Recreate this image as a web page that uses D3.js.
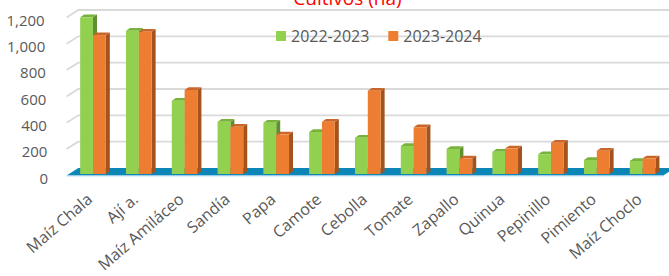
<!DOCTYPE html>
<html>
<head>
<meta charset="utf-8">
<script src="https://cdnjs.cloudflare.com/ajax/libs/d3/7.8.5/d3.min.js"></script>
<style>
    body { margin: 0; background: #fff; }
    text { font-family: "Open Sans", sans-serif; }
</style>
</head>
<body>
<div id="chart"></div>
<script>
// data
const categories = ["Maíz Chala", "Ají a.", "Maíz Amiláceo", "Sandía", "Papa", "Camote", "Cebolla",
    "Tomate", "Zapallo", "Quinua", "Pepinillo", "Pimiento", "Maíz Choclo"];
const seriesNames = ["2022-2023", "2023-2024"];
const values2022 = [1190, 1088, 557, 397, 390, 319, 276, 213, 190, 169, 150, 106, 99];
const values2023 = [1055, 1080, 638, 359, 301, 397, 633, 355, 119, 195, 238, 177, 119];
const yTicks = [0, 200, 400, 600, 800, 1000, 1200];
const tickLabels = ["0", "200", "400", "600", "800", "1,000", "1,200"];

var width = 669, height = 276;
var barBase = 174, wallBase = 168, labelBase = 178.3;
var depth = {x: -11.7, y: 7.4};      // back wall -> front edge of the floor
var barDepth = {x: 4, y: -2.7};      // 3d thickness of one column
var wallLeft = 78.3, wallRight = 669;

var colors = [
    {front: "#92d050", top: "#78b23c", side: "#5f8f2e"},
    {front: "#ed7d31", top: "#c9672a", side: "#a5531d"}
];

var svg = d3.select("#chart")
    .append("svg")
    .attr("width", width)
    .attr("height", height);

var y = d3.scaleLinear()
    .domain([0, 1200])
    .range([0, 158]);

var x = d3.scaleBand()
    .domain(categories)
    .range([70.1, 665.5])
    .paddingInner(0.44)
    .paddingOuter(0.22);

var xSub = d3.scaleBand()
    .domain([0, 1])
    .range([0, x.bandwidth()]);

// gridlines on the back wall + left wall
svg.append("g")
    .selectAll("path")
    .data(yTicks.slice(1))
    .enter()
    .append("path")
    .attr("d", function (d) {
        var yy = wallBase - y(d);
        return "M" + (wallLeft + depth.x) + "," + (yy + depth.y) + "L" + wallLeft + "," + yy + "L" + wallRight + "," + yy;
    })
    .attr("fill", "none")
    .attr("stroke", "#d9d9d9")
    .attr("stroke-width", 1.8);

// floor
svg.append("path")
    .attr("d", "M" + wallLeft + "," + wallBase + "L675," + wallBase + "L" + (675 + depth.x) + "," + (wallBase + depth.y)
        + "L" + (wallLeft + depth.x) + "," + (wallBase + depth.y) + "Z")
    .attr("fill", "#0b86b7");
svg.append("line")
    .attr("x1", wallLeft + depth.x).attr("x2", 675 + depth.x)
    .attr("y1", wallBase + depth.y + 0.5).attr("y2", wallBase + depth.y + 0.5)
    .attr("stroke", "#a9d8ee")
    .attr("stroke-width", 1);

// y axis labels
svg.append("g")
    .selectAll("text")
    .data(yTicks)
    .enter()
    .append("text")
    .attr("x", function (d) { return 48 - y(d) / 158 * 3.3; })
    .attr("y", function (d) { return labelBase - y(d); })
    .attr("dy", "0.35em")
    .attr("text-anchor", "end")
    .style("font-size", "15px")
    .style("fill", "#595959")
    .text(function (d, i) { return tickLabels[i]; });

// columns
[values2022, values2023].forEach(function (vals, s) {
    var g = svg.append("g");
    var bars = g.selectAll("g")
        .data(vals)
        .enter()
        .append("g");
    bars.each(function (v, i) {
        var x0 = x(categories[i]) + xSub(s);
        var w = xSub.bandwidth();
        var yt = barBase - y(v);
        var bar = d3.select(this);
        bar.append("path")
            .attr("d", "M" + (x0 + w) + "," + yt + "L" + (x0 + w + barDepth.x) + "," + (yt + barDepth.y)
                + "L" + (x0 + w + barDepth.x) + "," + (barBase + barDepth.y) + "L" + (x0 + w) + "," + barBase + "Z")
            .attr("fill", colors[s].side);
        bar.append("path")
            .attr("d", "M" + x0 + "," + yt + "L" + (x0 + w) + "," + yt + "L" + (x0 + w + barDepth.x) + "," + (yt + barDepth.y)
                + "L" + (x0 + barDepth.x) + "," + (yt + barDepth.y) + "Z")
            .attr("fill", colors[s].top);
        bar.append("rect")
            .attr("x", x0)
            .attr("y", yt)
            .attr("width", w)
            .attr("height", barBase - yt)
            .attr("fill", colors[s].front);
    });
});

// category labels
svg.append("g")
    .selectAll("text")
    .data(categories)
    .enter()
    .append("text")
    .attr("transform", function (d) {
        return "translate(" + (x(d) + x.bandwidth() / 2 + 0.5) + ",201) rotate(-41)";
    })
    .attr("text-anchor", "end")
    .style("font-size", "16px")
    .style("fill", "#595959")
    .text(function (d) { return d; });

// title (cut at the top)
svg.append("text")
    .attr("x", 347.5)
    .attr("y", 5)
    .attr("text-anchor", "middle")
    .style("font-size", "19px")
    .style("fill", "#ff0000")
    .text("Cultivos (ha)");

// legend
var legendX = [276, 388.3];
var legend = svg.append("g")
    .selectAll("g")
    .data(seriesNames)
    .enter()
    .append("g")
    .attr("transform", function (d, i) { return "translate(" + legendX[i] + ",31)"; });
legend.append("rect")
    .attr("width", 10)
    .attr("height", 10)
    .attr("fill", function (d, i) { return colors[i].front; });
legend.append("text")
    .attr("x", 15)
    .attr("y", 11)
    .style("font-size", "16px")
    .style("fill", "#595959")
    .text(function (d) { return d; });
</script>
</body>
</html>
